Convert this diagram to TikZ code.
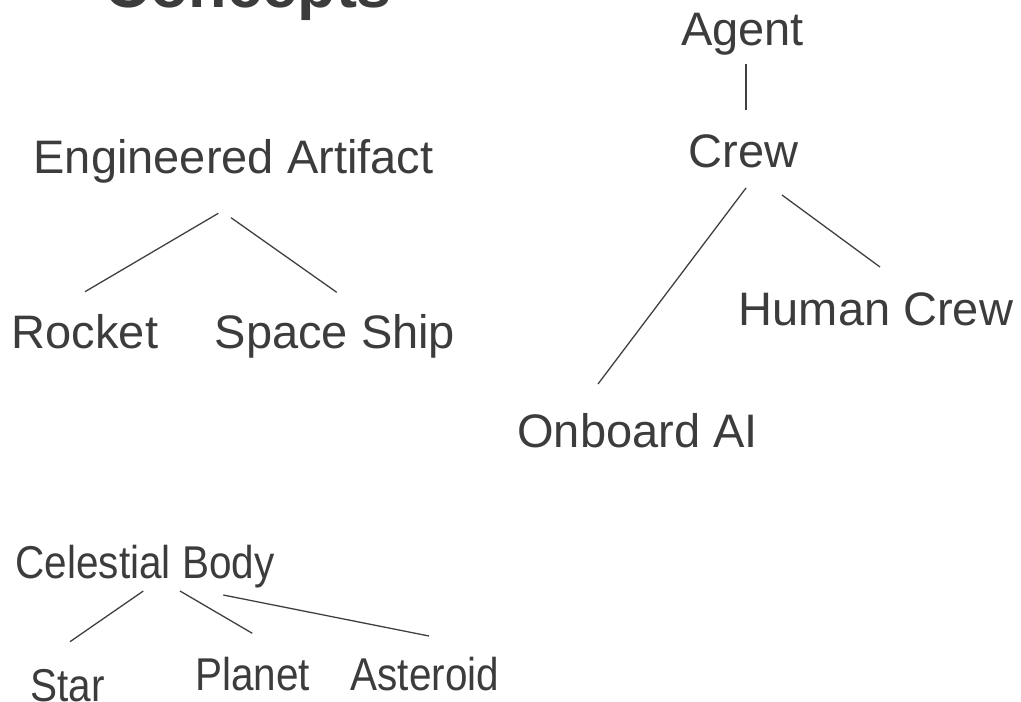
\documentclass[tikz,border=0pt]{standalone}
\usepackage{fontspec}
\setmainfont{Liberation Sans}
\usetikzlibrary{calc}
\definecolor{txt}{HTML}{3C3C3C}
\definecolor{ln}{HTML}{404040}
\tikzset{
  lbl/.style={anchor=base, inner sep=0pt, text=txt, font=\fontsize{47}{56}\selectfont},
  narrow/.style={lbl, font=\fontsize{46}{55}\selectfont, xscale=0.88},
  ttl/.style={anchor=base, inner sep=0pt, text=txt, font=\fontsize{63}{72}\selectfont\bfseries},
  edge/.style={draw=ln, line width=1.3pt}
}
\begin{document}
\begin{tikzpicture}[x=1pt, y=-1pt]
\useasboundingbox (0,0) rectangle (1021,702);
% title
\node[ttl] (title) at (248.5,7.5) {Concepts};
% agent tree
\node[lbl] (agent) at (742.5,45) {Agent};
\node[lbl] (crew) at (743.5,167) {Crew};
\node[lbl] (human) at (876,325) {Human Crew};
\node[lbl] (onboard) at (637.5,447) {Onboard AI};
% engineered artifact tree
\node[lbl] (ea) at (233.5,173) {Engineered Artifact};
\node[lbl] (rocket) at (85,348) {Rocket};
\node[lbl] (ship) at (335,348) {Space Ship};
% celestial tree
\node[narrow] (cb) at (145,578) {Celestial Body};
\node[narrow] (star) at (67.5,701) {Star};
\node[narrow] (planet) at (252.5,690) {Planet};
\node[narrow] (asteroid) at (425,690) {Asteroid};
% connectors
\draw[edge] ($(agent.base)+(3.5,19)$) -- ($(crew.base)+(2.5,-57)$);
\draw[edge] ($(crew.base)+(2.5,21)$) -- ($(onboard.base)+(-39.5,-63)$);
\draw[edge] ($(crew.base)+(38.5,28)$) -- ($(human.base)+(4,-58)$);
\draw[edge] ($(ea.base)+(-15.2,40.3)$) -- ($(rocket.base)+(0,-56.3)$);
\draw[edge] ($(ea.base)+(-2.5,44.7)$) -- ($(ship.base)+(1.7,-55.7)$);
\draw[edge] ($(cb.base)+(-1.7,13)$) -- ($(star.base)+(2.5,-59.3)$);
\draw[edge] ($(cb.base)+(35,13)$) -- ($(planet.base)+(-0.2,-56.7)$);
\draw[edge] ($(cb.base)+(78.3,17)$) -- ($(asteroid.base)+(4,-54)$);
\end{tikzpicture}
\end{document}
